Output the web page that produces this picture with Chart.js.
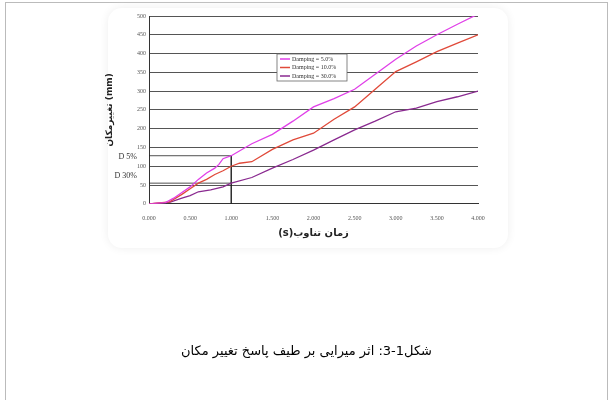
<!DOCTYPE html>
<html><head><meta charset="utf-8">
<script src="https://cdn.jsdelivr.net/npm/chart.js@4"></script>
<style>
body{margin:0;background:#fff;width:613px;height:400px;overflow:hidden;position:relative}
#frame{position:absolute;left:5px;top:2px;width:601px;height:410px;border:1px solid #bbb;border-bottom:none}
#glow{position:absolute;left:108px;top:8px;width:400px;height:240px;border-radius:14px;box-shadow:0 0 10px #eee}
#wrap{position:absolute;left:0;top:0;width:613px;height:400px}
#caption{position:absolute;left:0;width:613px;top:343px;text-align:center;font:13px "DejaVu Sans";direction:rtl}
</style></head><body>
<div id="frame"></div><div id="glow"></div>
<div id="wrap"><canvas id="c"></canvas></div>
<div id="caption">شکل1-3: اثر میرایی بر طیف پاسخ تغییر مکان</div>
<script>
const periods5 = [0,0.2,0.3,0.4,0.5,0.6,0.7,0.8,0.85,0.9,1.0,1.25,1.5,1.75,2.0,2.25,2.5,2.75,3.0,3.25,3.5,3.75,4.0];
const damp5 = [0,3,15,30,45,65,82,95,105,120,128,160,185,220,258,280,305,345,385,420,450,478,505];
const periods10 = [0,0.25,0.4,0.5,0.6,0.7,0.8,0.9,1.0,1.1,1.25,1.5,1.75,2.0,2.25,2.5,2.75,3.0,3.25,3.5,3.75,4.0];
const damp10 = [0,5,25,40,55,65,78,88,100,108,112,145,170,188,225,258,305,352,378,405,428,450];
const periods30 = [0,0.25,0.4,0.5,0.6,0.75,0.9,1.0,1.25,1.5,1.75,2.0,2.25,2.5,2.75,3.0,3.25,3.5,3.75,4.0];
const damp30 = [0,4,15,22,32,37,45,55,70,95,118,143,170,197,220,245,255,272,285,300];
const seriesNames = ['Damping = 5.0%','Damping = 10.0%','Damping = 30.0%'];
const seriesColors = ['#e040e8','#e04a3a','#8a2a90'];
// guide lines for D 5% and D 30%
const guideX = [0,1,1];
const guide5 = [128,128,0];
const guide30X = [0,1];
const guide30 = [55,55];

function pts(xs, ys){ return xs.map((x,i)=>({x:x,y:ys[i]})); }

const overlay = {
  id:'overlay',
  afterDraw(chart){
    const ctx = chart.ctx, ys = chart.scales.y, a = chart.chartArea;
    ctx.save();
    ctx.fillStyle='#333'; ctx.font='8px "Liberation Serif"'; ctx.textAlign='right'; ctx.textBaseline='middle';
    ctx.fillText('D 5%', a.left-12, ys.getPixelForValue(120)-2);
    ctx.fillText('D 30%', a.left-12, ys.getPixelForValue(75));
    // legend box
    const lx=277, ly=54, lw=70, lh=27;
    ctx.fillStyle='#fff'; ctx.fillRect(lx,ly,lw,lh);
    ctx.strokeStyle='#666'; ctx.lineWidth=0.8; ctx.strokeRect(lx,ly,lw,lh);
    ctx.font='6px "Liberation Serif"'; ctx.textAlign='left';
    seriesNames.forEach((n,i)=>{
      const yy = ly+5+i*8.5;
      ctx.strokeStyle=seriesColors[i]; ctx.lineWidth=1.5;
      ctx.beginPath(); ctx.moveTo(lx+3,yy); ctx.lineTo(lx+13,yy); ctx.stroke();
      ctx.fillStyle='#333'; ctx.fillText(n, lx+15, yy);
    });
    ctx.restore();
  }
};

new Chart(document.getElementById('c'), {
  type:'scatter',
  data:{datasets:[
    {data:pts(periods5,damp5),borderColor:seriesColors[0],showLine:true,pointRadius:0,borderWidth:1.3},
    {data:pts(periods10,damp10),borderColor:seriesColors[1],showLine:true,pointRadius:0,borderWidth:1.3},
    {data:pts(periods30,damp30),borderColor:seriesColors[2],showLine:true,pointRadius:0,borderWidth:1.3},
    {data:pts(guideX,guide5),borderColor:'#222',showLine:true,pointRadius:0,borderWidth:0.8},
    {data:pts(guide30X,guide30),borderColor:'#222',showLine:true,pointRadius:0,borderWidth:0.8}
  ]},
  options:{
    responsive:true, maintainAspectRatio:false, animation:false,
    layout:{padding:{left:100,right:135,top:16,bottom:157}},
    plugins:{legend:{display:false},tooltip:{enabled:false}},
    scales:{
      x:{type:'linear',min:0,max:4,
        ticks:{stepSize:0.5,font:{size:6,family:'Liberation Serif'},color:'#555',callback:v=>v.toFixed(3)},
        grid:{display:false},border:{color:'#333'},
        title:{display:true,text:'(s)زمان تناوب',font:{size:10,weight:'bold',family:'DejaVu Sans'},color:'#222',padding:{top:2}}},
      y:{min:0,max:500,
        ticks:{stepSize:50,font:{size:6,family:'Liberation Serif'},color:'#555'},
        grid:{color:'#555',borderDash:[1.5,1.5],drawTicks:false},border:{color:'#333'},
        title:{display:true,text:'تغییرمکان (mm)',font:{size:9,weight:'bold',family:'DejaVu Sans'},color:'#222'},
        afterFit(s){ s.width = 49; }}
    }
  },
  plugins:[overlay]
});
</script></body></html>
